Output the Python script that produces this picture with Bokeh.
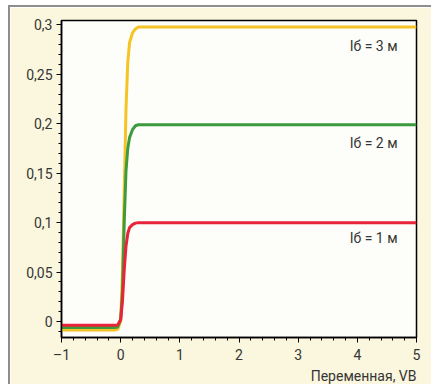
from bokeh.plotting import figure
from bokeh.models import Range1d, SingleIntervalTicker, CustomJSTickFormatter, Title
from bokeh.core.properties import value
from bokeh.embed import file_html
from bokeh.resources import INLINE

# ---- data ----
x_vals = [-1, -0.1, -0.05, 0, 0.03, 0.06, 0.09, 0.12, 0.15, 0.2, 0.25, 0.3, 0.4, 1, 2, 3, 4, 5]
ib1 = [-0.0037, -0.0037, -0.0035, 0.002, 0.02, 0.052, 0.076, 0.089, 0.095, 0.098, 0.0995, 0.1, 0.1, 0.1, 0.1, 0.1, 0.1, 0.1]
ib2 = [-0.006, -0.006, -0.0055, 0.002, 0.03, 0.1, 0.152, 0.175, 0.186, 0.194, 0.198, 0.199, 0.199, 0.199, 0.199, 0.199, 0.199, 0.199]
ib3 = [-0.0087, -0.0087, -0.008, 0.0, 0.05, 0.13, 0.215, 0.262, 0.282, 0.292, 0.296, 0.298, 0.298, 0.298, 0.298, 0.298, 0.298, 0.298]
series_labels = ["Iб = 3 м", "Iб = 2 м", "Iб = 1 м"]
label_x = [4.68, 4.68, 4.68]
label_y = [0.279, 0.181, 0.084]
x_title = "Переменная, VB"

FONT = "Roboto"
CREAM = "#fbf6de"
TXT = "#353535"

p = figure(width=423, height=379, output_backend="svg", toolbar_location=None,
           x_range=Range1d(-1, 5), y_range=Range1d(-0.0162, 0.3045),
           min_border_left=51, min_border_right=17, min_border_top=13, min_border_bottom=49,
           styles={"margin-left": "8px", "margin-top": "5px",
                   "border-left": "2px solid #8e8e8e", "border-top": "2px solid #8e8e8e"})
p.background_fill_color = "#fdfdf9"
p.border_fill_color = CREAM
p.outline_line_color = "black"
p.outline_line_width = 1.5
p.grid.visible = False

p.line(x_vals, ib3, line_color="#f6c325", line_width=3)
p.line(x_vals, ib2, line_color="#3d9b3f", line_width=3)
p.line(x_vals, ib1, line_color="#e8233a", line_width=3)

p.text(x=label_x, y=label_y, text=series_labels, text_align="right", text_baseline="middle",
       text_font=value(FONT), text_font_size="14px", text_color=TXT)

fmt = CustomJSTickFormatter(code="""
    const v = Math.round(tick * 100) / 100;
    return v.toString().replace('.', ',').replace('-', '\u2013');
""")

for ax, step in ((p.xaxis[0], 1), (p.yaxis[0], 0.05)):
    ax.ticker = SingleIntervalTicker(interval=step, num_minor_ticks=5)
    ax.formatter = fmt
    ax.axis_line_color = "black"
    ax.axis_line_width = 1.5
    ax.major_tick_line_color = "black"
    ax.minor_tick_line_color = "black"
    ax.major_tick_out = 5
    ax.major_tick_in = 0
    ax.minor_tick_out = 3
    ax.minor_tick_in = 0
    ax.major_label_text_font = FONT
    ax.major_label_text_font_size = "14px"
    ax.major_label_text_color = TXT

p.xaxis[0].major_label_standoff = 4
p.yaxis[0].major_label_standoff = 4

p.add_layout(Title(text=x_title, align="right", text_font=FONT, text_font_size="14px",
                   text_font_style="normal", text_color=TXT, standoff=1), "below")

open("out.html", "w").write(file_html(p, INLINE))
